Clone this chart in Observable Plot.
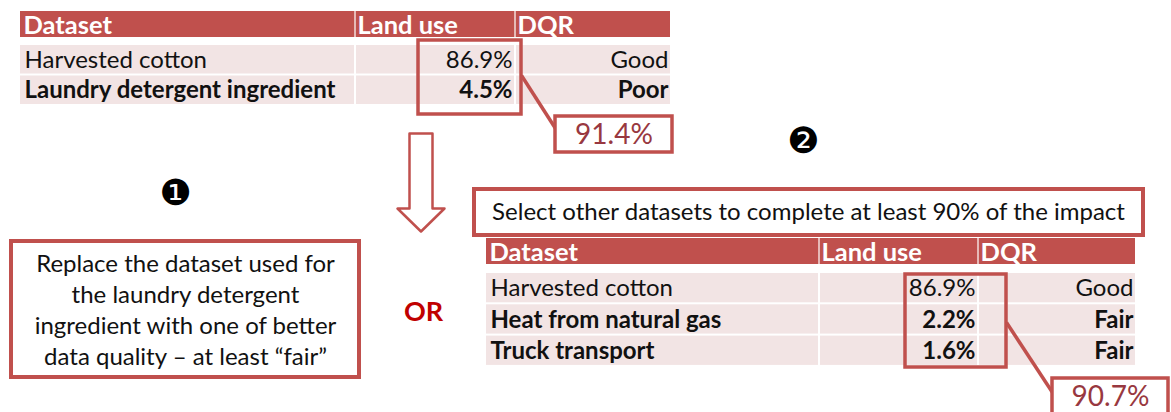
<!DOCTYPE html>
<html>
<head>
<meta charset="utf-8">
<script src="https://cdn.jsdelivr.net/npm/d3@7"></script>
<script src="https://cdn.jsdelivr.net/npm/@observablehq/plot@0.6"></script>
<style>
  html, body { margin: 0; padding: 0; background: #fff; }
  #chart svg { display: block; }
</style>
</head>
<body>
<div id="chart"></div>
<script>
// ---------- DATA ----------
const headers = ["Dataset", "Land use", "DQR"];

const table1Datasets = ["Harvested cotton", "Laundry detergent ingredient"];
const table1LandUse = [86.9, 4.5];
const table1DQR = ["Good", "Poor"];
const table1Bold = [false, true];
const table1Total = 91.4;

const table2Datasets = ["Harvested cotton", "Heat from natural gas", "Truck transport"];
const table2LandUse = [86.9, 2.2, 1.6];
const table2DQR = ["Good", "Fair", "Fair"];
const table2Bold = [false, true, true];
const table2Total = 90.7;

const option1Lines = ["Replace the dataset used for", "the laundry detergent", "ingredient with one of better", "data quality \u2013 at least \u201cfair\u201d"];
const option2Text = "Select other datasets to complete at least 90% of the impact";
const orLabel = "OR";
const stepMarkers = ["\u2776", "\u2777"];

// ---------- LAYOUT & STYLE ----------
const W = 1171, H = 412;
const RED = "#c0504d", ROW = "#f2e4e4", INK = "#111111", TOTAL = "#983840", ORRED = "#c00000";
const FONT = "Lato, 'Open Sans', sans-serif";
const FS = 24, FS_HEAD = 25.5, FS_TOTAL = 28, FS_OR = 27, FS_MARK = 36;

const L1 = {cols: [20, 355, 515, 670], head: [11, 37], rowTop: 45, pitch: 30.5,
  box: [418, 521, 40, 114], link: [[521, 75], [555, 128]], tbox: [555, 672, 116, 152]};
const L2 = {cols: [486, 819, 978, 1135], head: [238, 264], rowTop: 273, pitch: 31.3,
  box: [905, 1006, 274, 367], link: [[1006, 322], [1052, 392]], tbox: [1052, 1168, 378, 422]};
const optBox1 = {x1: 11, x2: 359, y1: 241, y2: 377, cx: 185, cy: 308, lh: 31.3};
const optBox2 = {x1: 474, x2: 1143, y1: 189, y2: 235, cx: 808, cy: 212};
const arrowL = {xl: 409, xr: 432, top: 133, headY: 208, hl: 397, hr: 444, tip: 231};
const orPos = {x: 423, y: 312};
const markerPos = [{x: 175, y: 193}, {x: 803, y: 141}];

const pct = v => d3.format(".1f")(v) + "%";

function buildTable(L, datasets, landUse, dqr, bold) {
  const headCells = headers.map((h, j) => ({x1: L.cols[j] + (j ? 0.6 : 0), x2: L.cols[j + 1] - (j < 2 ? 0.6 : 0), y1: L.head[0], y2: L.head[1]}));
  const headText = headers.map((h, j) => ({text: h, x: L.cols[j] + (j ? 2 : 3), y: (L.head[0] + L.head[1]) / 2 + 1}));
  const bodyCells = [], bodyText = [];
  datasets.forEach((d, i) => {
    const y1 = L.rowTop + i * L.pitch, y2 = y1 + L.pitch - 2;
    const cy = (y1 + y2) / 2 + 0.5;
    for (let j = 0; j < 3; j++) bodyCells.push({x1: L.cols[j] + (j ? 1 : 0), x2: L.cols[j + 1] - (j < 2 ? 1 : 0), y1, y2});
    bodyText.push({text: d, x: L.cols[0] + 4, y: cy, anchor: "start", bold: bold[i]});
    bodyText.push({text: pct(landUse[i]), x: L.cols[2] - 3, y: cy, anchor: "end", bold: bold[i]});
    bodyText.push({text: dqr[i], x: L.cols[3] - 2, y: cy, anchor: "end", bold: bold[i]});
  });
  return {headCells, headText, bodyCells, bodyText};
}

const t1 = buildTable(L1, table1Datasets, table1LandUse, table1DQR, table1Bold);
const t2 = buildTable(L2, table2Datasets, table2LandUse, table2DQR, table2Bold);
const headCells = [...t1.headCells, ...t2.headCells];
const headText = [...t1.headText, ...t2.headText];
const bodyCells = [...t1.bodyCells, ...t2.bodyCells];
const bodyText = [...t1.bodyText, ...t2.bodyText];

const hiBoxes = [L1, L2].map(L => ({x1: L.box[0], x2: L.box[1], y1: L.box[2], y2: L.box[3]}));
const totalBoxes = [L1, L2].map(L => ({x1: L.tbox[0], x2: L.tbox[1], y1: L.tbox[2], y2: L.tbox[3]}));
const totals = [table1Total, table2Total].map((v, i) => {
  const L = [L1, L2][i];
  return {text: pct(v), x: (L.tbox[0] + L.tbox[1]) / 2, y: i === 0 ? (L.tbox[2] + L.tbox[3]) / 2 + 1 : 397};
});
const links = [L1, L2].map(L => ({x1: L.link[0][0], y1: L.link[0][1], x2: L.link[1][0], y2: L.link[1][1]}));
const optBoxes = [optBox1, optBox2];
const arrowPts = [
  [arrowL.xl, arrowL.top], [arrowL.xr, arrowL.top], [arrowL.xr, arrowL.headY], [arrowL.hr, arrowL.headY],
  [(arrowL.hl + arrowL.hr) / 2, arrowL.tip], [arrowL.hl, arrowL.headY], [arrowL.xl, arrowL.headY], [arrowL.xl, arrowL.top]
];

const chart = Plot.plot({
  width: W, height: H, margin: 0,
  x: {domain: [0, W], range: [0, W], axis: null},
  y: {domain: [0, H], range: [0, H], axis: null},
  style: {background: "#fff", fontFamily: FONT},
  marks: [
    // table cells
    Plot.rect(bodyCells, {x1: "x1", x2: "x2", y1: "y1", y2: "y2", fill: ROW}),
    Plot.rect(headCells, {x1: "x1", x2: "x2", y1: "y1", y2: "y2", fill: RED}),
    Plot.text(headText, {x: "x", y: "y", text: "text", textAnchor: "start", fill: "#fff", fontWeight: "bold", fontSize: FS_HEAD, fontFamily: FONT}),
    Plot.text(bodyText.filter(d => !d.bold && d.anchor === "start"), {x: "x", y: "y", text: "text", textAnchor: "start", fill: INK, fontSize: FS, fontFamily: FONT}),
    Plot.text(bodyText.filter(d => !d.bold && d.anchor === "end"), {x: "x", y: "y", text: "text", textAnchor: "end", fill: INK, fontSize: FS, fontFamily: FONT}),
    Plot.text(bodyText.filter(d => d.bold && d.anchor === "start"), {x: "x", y: "y", text: "text", textAnchor: "start", fill: INK, fontWeight: "bold", fontSize: FS, fontFamily: FONT}),
    Plot.text(bodyText.filter(d => d.bold && d.anchor === "end"), {x: "x", y: "y", text: "text", textAnchor: "end", fill: INK, fontWeight: "bold", fontSize: FS, fontFamily: FONT}),
    // highlight boxes and connectors
    Plot.rect(hiBoxes, {x1: "x1", x2: "x2", y1: "y1", y2: "y2", fill: "none", stroke: RED, strokeWidth: 3.5}),
    Plot.link(links, {x1: "x1", y1: "y1", x2: "x2", y2: "y2", stroke: RED, strokeWidth: 3.5}),
    Plot.rect(totalBoxes, {x1: "x1", x2: "x2", y1: "y1", y2: "y2", fill: "#fff", stroke: RED, strokeWidth: 3.5}),
    Plot.text(totals, {x: "x", y: "y", text: "text", fill: TOTAL, fontSize: FS_TOTAL, fontFamily: FONT}),
    // down arrow
    Plot.line(arrowPts, {x: d => d[0], y: d => d[1], stroke: RED, strokeWidth: 2.5, fill: "#fff", curve: "linear-closed"}),
    // option boxes
    Plot.rect(optBoxes, {x1: "x1", x2: "x2", y1: "y1", y2: "y2", fill: "#fff", stroke: RED, strokeWidth: 4}),
    Plot.text([option1Lines.join("\n")], {x: optBox1.cx, y: optBox1.cy, text: d => d, fill: INK, fontSize: FS, lineHeight: optBox1.lh / FS, fontFamily: FONT}),
    Plot.text([option2Text], {x: optBox2.cx, y: optBox2.cy, text: d => d, fill: INK, fontSize: FS, fontFamily: FONT}),
    // OR and step markers
    Plot.text([orLabel], {x: orPos.x, y: orPos.y, text: d => d, fill: ORRED, fontWeight: "bold", fontSize: FS_OR, fontFamily: FONT}),
    Plot.text(stepMarkers, {x: (d, i) => markerPos[i].x, y: (d, i) => markerPos[i].y, text: d => d, fill: "#000", fontSize: FS_MARK, fontFamily: "'DejaVu Sans', sans-serif"})
  ]
});
document.getElementById("chart").appendChild(chart);
</script>
</body>
</html>
